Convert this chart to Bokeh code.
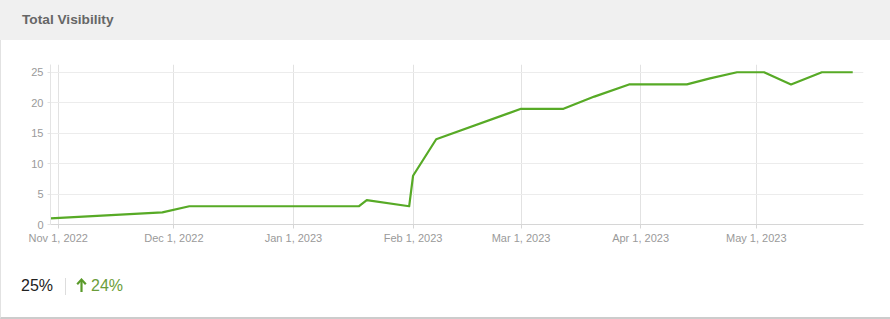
import pandas as pd
from bokeh.plotting import figure
from bokeh.models import Range1d, FixedTicker, CustomJSTickFormatter, Div, ColumnDataSource
from bokeh.layouts import column, row
from bokeh.embed import file_html
from bokeh.resources import INLINE

# ---- data ----
dates = ["2022-10-30", "2022-11-28", "2022-12-05", "2023-01-18", "2023-01-20",
         "2023-01-31", "2023-02-01", "2023-02-07", "2023-03-01", "2023-03-12",
         "2023-03-20", "2023-03-29", "2023-04-13", "2023-04-19", "2023-04-26",
         "2023-05-03", "2023-05-10", "2023-05-18", "2023-05-26"]
visibility = [1, 2, 3, 3, 4, 3, 8, 14, 19, 19, 21, 23, 23, 24, 25, 25, 23, 25, 25]
month_ticks = ["2022-11-01", "2022-12-01", "2023-01-01", "2023-02-01",
               "2023-03-01", "2023-04-01", "2023-05-01"]
y_ticks = [0, 5, 10, 15, 20, 25]
title_text = "Total Visibility"
current_value = "25%"
change_value = "24%"

FONT = "'Liberation Sans', Arial, sans-serif"


def ms(d):
    return pd.Timestamp(d).timestamp() * 1000.0


source = ColumnDataSource(data=dict(x=pd.to_datetime(dates), y=visibility))

p = figure(x_axis_type="datetime", frame_width=813, frame_height=160,
           min_border_left=49, min_border_right=27, min_border_top=24,
           min_border_bottom=31, output_backend="svg", toolbar_location=None,
           x_range=Range1d(ms("2022-10-30"), ms("2023-05-28 19:00")),
           y_range=Range1d(0, 26.27))
p.outline_line_color = None
p.background_fill_color = "white"
p.border_fill_color = "white"

p.line("x", "y", source=source, line_color="#57aa26", line_width=2.2,
       line_join="round")

xt = FixedTicker(ticks=[ms(d) for d in month_ticks], minor_ticks=[])
p.xaxis.ticker = xt
p.xgrid.ticker = xt
p.xaxis.formatter = CustomJSTickFormatter(code="""
const M = ["Jan","Feb","Mar","Apr","May","Jun","Jul","Aug","Sep","Oct","Nov","Dec"];
const d = new Date(tick);
return M[d.getUTCMonth()] + " " + d.getUTCDate() + ", " + d.getUTCFullYear();
""")
yt = FixedTicker(ticks=y_ticks, minor_ticks=[])
p.yaxis.ticker = yt
p.ygrid.ticker = yt

for ax in (p.xaxis, p.yaxis):
    ax.major_label_text_font = "Liberation Sans"
    ax.major_label_text_font_size = "11px"
    ax.major_label_text_color = "#9a9a9a"
    ax.minor_tick_line_color = None
    ax.major_tick_in = 0

p.xaxis.axis_line_color = "#d6d6d6"
p.xaxis.major_tick_line_color = "#d6d6d6"
p.xaxis.major_tick_out = 4
p.xaxis.major_label_standoff = 3
p.yaxis.axis_line_color = "#e4e4e4"
p.yaxis.major_tick_line_color = "#e4e4e4"
p.yaxis.major_tick_out = 3
p.yaxis.major_label_standoff = 4

p.xgrid.grid_line_color = "#e2e2e2"
p.ygrid.grid_line_color = "#ececec"

header = Div(text=(
    f'<div style="width:890px;height:40px;background:#f0f0f0;'
    f'box-sizing:border-box;padding-left:22px;line-height:40px;'
    f'font-family:{FONT};font-weight:bold;font-size:13.7px;color:#666;">'
    f'{title_text}</div>'), width=890, height=40, margin=0)

left_edge = Div(text='<div style="width:1px;height:215px;background:#e2e2e2;"></div>',
                width=1, height=215, margin=0)

arrow_svg = ('<svg width="11" height="15" viewBox="0 0 11 15" '
             'style="position:absolute;left:75px;top:23px;">'
             '<path d="M5.5 14 L5.5 2" stroke="#5a9a2a" stroke-width="2.2" fill="none"/>'
             '<path d="M1.2 6.2 L5.5 1.6 L9.8 6.2" stroke="#5a9a2a" stroke-width="2.2" '
             'fill="none" stroke-linejoin="miter"/></svg>')

footer = Div(text=(
    f'<div style="position:relative;width:890px;height:64px;box-sizing:border-box;'
    f'border-bottom:2px solid #cccccc;border-left:1px solid #e2e2e2;font-family:{FONT};">'
    f'<span style="position:absolute;left:20px;top:20px;font-size:16px;color:#222;">{current_value}</span>'
    f'<span style="position:absolute;left:64px;top:23px;width:1px;height:17px;background:#dddddd;"></span>'
    f'{arrow_svg}'
    f'<span style="position:absolute;left:90px;top:20px;font-size:16px;color:#6a9d3a;">{change_value}</span>'
    f'</div>'), width=890, height=64, margin=0)

layout = column(header, row(left_edge, p, spacing=0), footer, spacing=0)

with open("out.html", "w") as f:
    f.write(file_html(layout, INLINE))
